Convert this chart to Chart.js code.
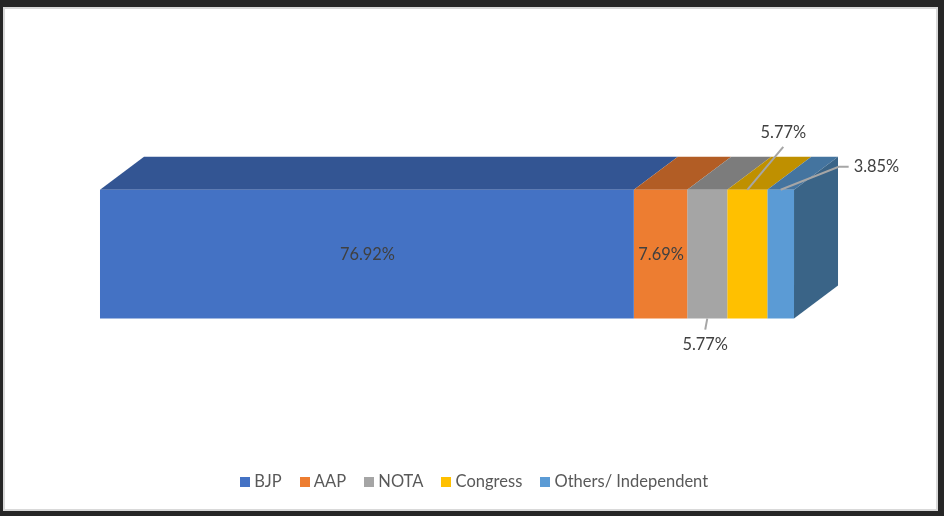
<!DOCTYPE html>
<html>
<head>
<meta charset="utf-8">
<title>Vote share</title>
<script src="https://cdn.jsdelivr.net/npm/chart.js@4"></script>
<style>
  html, body { margin: 0; width: 944px; height: 516px; background: #262626; overflow: hidden; }
  #frame { position: absolute; left: 3px; top: 7px; width: 931px; height: 500px; background: #fff; border: 2px solid #d9d9d9; }
  #myChart { position: absolute; left: 8px; top: 0; }
</style>
</head>
<body>
<div id="frame"></div>
<canvas id="myChart" width="936" height="516"></canvas>
<script>
const parties = ['BJP', 'AAP', 'NOTA', 'Congress', 'Others/ Independent'];
const shares = [76.92, 7.69, 5.77, 5.77, 3.85];
const frontColors = ['#4472C4', '#ED7D31', '#A5A5A5', '#FFC000', '#5B9BD5'];
const topColors = ['#335593', '#B25D25', '#7C7C7C', '#BF9000', '#44749F'];
const sideColor = '#3A6487';

const depthX = 44;
const depthY = 33;
const labelFont = '16.4px Lato';
const labelColor = '#404040';
const leaderColor = '#A6A6A6';

// where each data label goes, relative to its bar. null means centred, no leader
const callouts = [
    null,
    null,
    {edge: 'bottom', along: 0.5, line: [[-2, 11]], text: [-2, 26]},
    {edge: 'top', along: 0.5, line: [[36, -43]], text: [36, -57]},
    {edge: 'top', along: 0.5, line: [[58, -23], [68, -23]], text: [73, -23], align: 'left'},
];

// legend swatch as an image, the legend leaves too wide a gap after a normal box
const swatch = (color) => {
    const c = document.createElement('canvas');
    c.width = 10;
    c.height = 10;
    const g = c.getContext('2d');
    g.fillStyle = color;
    g.fillRect(0, 0, 10, 10);
    return c;
};

const box3d = {
    id: 'box3d',
    beforeDatasetsDraw(chart) {
        const ctx = chart.ctx;
        chart.data.datasets.forEach((ds, i) => {
            const bar = chart.getDatasetMeta(i).data[0];
            const top = bar.y - bar.height / 2;
            ctx.fillStyle = topColors[i];
            ctx.beginPath();
            ctx.moveTo(bar.base, top);
            ctx.lineTo(bar.base + depthX, top - depthY);
            ctx.lineTo(bar.x + depthX, top - depthY);
            ctx.lineTo(bar.x, top);
            ctx.closePath();
            ctx.fill();
        });
        const last = chart.getDatasetMeta(chart.data.datasets.length - 1).data[0];
        const top = last.y - last.height / 2;
        const bottom = last.y + last.height / 2;
        ctx.fillStyle = sideColor;
        ctx.beginPath();
        ctx.moveTo(last.x, top);
        ctx.lineTo(last.x + depthX, top - depthY);
        ctx.lineTo(last.x + depthX, bottom - depthY);
        ctx.lineTo(last.x, bottom);
        ctx.closePath();
        ctx.fill();
    },
    afterDatasetsDraw(chart) {
        const ctx = chart.ctx;
        ctx.font = labelFont;
        ctx.textBaseline = 'middle';
        shares.forEach((v, i) => {
            const bar = chart.getDatasetMeta(i).data[0];
            const label = v.toFixed(2) + '%';
            const c = callouts[i];
            ctx.fillStyle = labelColor;
            if (!c) {
                ctx.textAlign = 'center';
                ctx.fillText(label, (bar.base + bar.x) / 2 + 0.5, bar.y + 1);
                return;
            }
            const ax = bar.base + (bar.x - bar.base) * c.along;
            const ay = bar.y + (c.edge === 'top' ? -1 : 1) * bar.height / 2;
            ctx.strokeStyle = leaderColor;
            ctx.lineWidth = 2;
            ctx.beginPath();
            ctx.moveTo(ax, ay);
            c.line.forEach(p => ctx.lineTo(ax + p[0], ay + p[1]));
            ctx.stroke();
            ctx.textAlign = c.align || 'center';
            ctx.fillText(label, ax + c.text[0], ay + c.text[1]);
        });
    }
};

new Chart(document.getElementById('myChart'), {
    type: 'bar',
    data: {
        labels: ['Vote share'],
        datasets: parties.map((p, i) => ({
            label: p,
            data: [shares[i]],
            backgroundColor: frontColors[i],
            borderWidth: 0,
            barPercentage: 129 / 395.2,
            categoryPercentage: 1,
        }))
    },
    options: {
        indexAxis: 'y',
        responsive: false,
        animation: false,
        layout: {padding: {top: 56.9, bottom: 16}},
        scales: {
            x: {display: false, stacked: true, min: -13.256, max: 121.61},
            y: {display: false, stacked: true},
        },
        plugins: {
            tooltip: {enabled: false},
            legend: {
                position: 'bottom',
                labels: {
                    usePointStyle: true,
                    boxWidth: 2,
                    boxHeight: 10,
                    padding: 22,
                    color: '#595959',
                    font: {family: 'Lato', size: 16.5},
                    generateLabels: (chart) => Chart.defaults.plugins.legend.labels.generateLabels(chart)
                        .map((item, i) => ({...item, pointStyle: swatch(frontColors[i])})),
                }
            }
        }
    },
    plugins: [box3d]
});
</script>
</body>
</html>
